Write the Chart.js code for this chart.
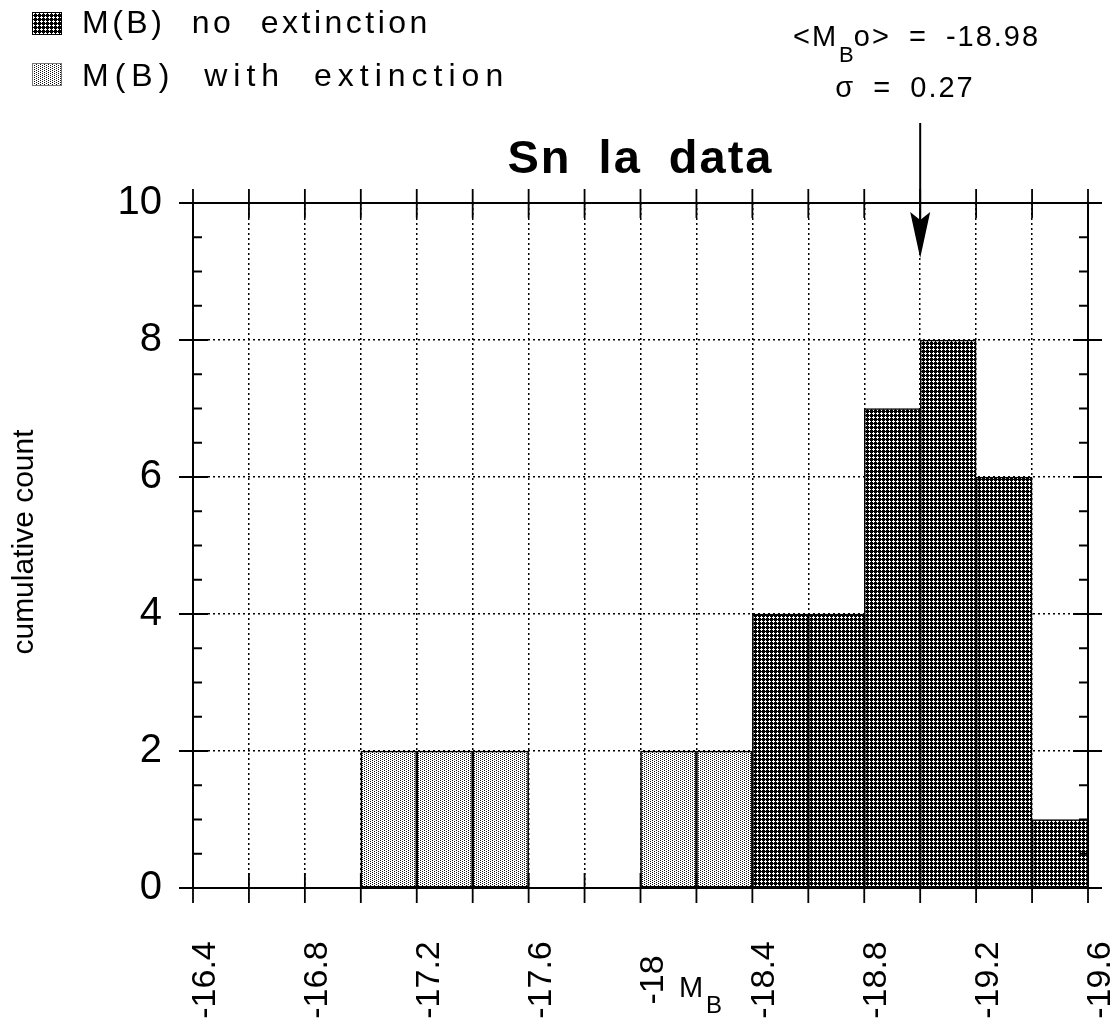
<!DOCTYPE html>
<html lang="en">
<head>
<meta charset="UTF-8">
<title>Sn la data</title>
<style>
  body { margin: 0; background: #fff; }
  #wrap { width: 1116px; height: 1036px; }
</style>
</head>
<body>
<div id="wrap"><canvas id="hist" width="1116" height="1036"></canvas></div>
<script src="https://cdn.jsdelivr.net/npm/chart.js"></script>
<script>
// histogram bins (M_B), 0.2 mag wide, given by their centres
const binCenters = [-16.5, -16.7, -16.9, -17.1, -17.3, -17.5, -17.7, -17.9,
                    -18.1, -18.3, -18.5, -18.7, -18.9, -19.1, -19.3, -19.5];
const noExtinction   = [null, null, null, null, null, null, null, null,
                        null, null, 4, 4, 7, 8, 6, 1];
const withExtinction = [null, null, null, 2, 2, 2, null, null,
                        2, 2, null, null, null, null, null, null];

const seriesLabels = ['M(B) no extinction', 'M(B) with extinction'];

// axes
const xGridValues = [-16.4, -16.6, -16.8, -17.0, -17.2, -17.4, -17.6, -17.8, -18.0,
                     -18.2, -18.4, -18.6, -18.8, -19.0, -19.2, -19.4, -19.6];
const xTickValues = [-16.4, -16.8, -17.2, -17.6, -18.0, -18.4, -18.8, -19.2, -19.6];
const xTickLabels = ['-16.4', '-16.8', '-17.2', '-17.6', '-18', '-18.4', '-18.8', '-19.2', '-19.6'];
const yTickValues = [0, 2, 4, 6, 8, 10];

const chartTitle = 'Sn la data';
const yTitle = 'cumulative count';
const meanValue = '-18.98';
const sigmaValue = '0.27';
const arrowAt = -19.0;

const FONT = '"Liberation Sans", Arial, Helvetica, sans-serif';

function makePattern(bg, dot, pts) {
    const c = document.createElement('canvas');
    c.width = 4; c.height = 4;
    const g = c.getContext('2d');
    g.fillStyle = bg;
    g.fillRect(0, 0, 4, 4);
    g.fillStyle = dot;
    pts.forEach(p => g.fillRect(p[0], p[1], 1, 1));
    return g.createPattern(c, 'repeat');
}

// dark: black with white diamond holes, light: white with black dots
const darkFill = makePattern('#000', '#fff', [[1, 0], [0, 1], [1, 1], [2, 1], [1, 2]]);
const lightFill = makePattern('#fff', '#111', [[0, 0], [2, 1], [0, 2], [2, 3]]);

function spaced(ctx, ls, ws) {
    if ('letterSpacing' in ctx) ctx.letterSpacing = ls + 'px';
    if ('wordSpacing' in ctx) ctx.wordSpacing = ws + 'px';
}

const decorations = {
    id: 'decorations',
    afterDraw(chart) {
        const ctx = chart.ctx;
        const area = chart.chartArea;
        const xs = chart.scales.x;
        const ys = chart.scales.y;
        ctx.save();
        ctx.strokeStyle = '#000';
        ctx.fillStyle = '#000';

        // frame
        ctx.lineWidth = 2;
        ctx.strokeRect(area.left, area.top, area.right - area.left, area.bottom - area.top);

        // crossing ticks on top and bottom
        ctx.lineWidth = 1.8;
        ctx.beginPath();
        xs.ticks.forEach(t => {
            const px = xs.getPixelForValue(t.value);
            ctx.moveTo(px, area.bottom - 15); ctx.lineTo(px, area.bottom + 15);
            ctx.moveTo(px, area.top - 14); ctx.lineTo(px, area.top + 15);
        });
        // left / right ticks
        for (let i = 0; i <= 20; i++) {
            const v = i * 0.5;
            const py = ys.getPixelForValue(v);
            if (i % 4 === 0) {
                ctx.moveTo(area.left - 14, py); ctx.lineTo(area.left + 15, py);
                ctx.moveTo(area.right - 15, py); ctx.lineTo(area.right + 14, py);
            } else {
                ctx.moveTo(area.left, py); ctx.lineTo(area.left + 9, py);
                ctx.moveTo(area.right, py); ctx.lineTo(area.right - 9, py);
            }
        }
        ctx.stroke();

        // x tick labels, rotated
        ctx.font = '34px ' + FONT;
        ctx.textAlign = 'center';
        ctx.textBaseline = 'alphabetic';
        xTickValues.forEach((v, i) => {
            const px = xs.getPixelForValue(v);
            ctx.save();
            ctx.translate(px + 22, 980);
            ctx.rotate(-Math.PI / 2);
            ctx.fillText(xTickLabels[i], 0, 0);
            ctx.restore();
        });

        // x axis title M_B
        ctx.textAlign = 'left';
        ctx.font = '29px ' + FONT;
        ctx.fillText('M', 679, 997);
        ctx.font = '24px ' + FONT;
        ctx.fillText('B', 706, 1013);

        // y axis title
        ctx.save();
        ctx.font = '30px ' + FONT;
        ctx.textAlign = 'center';
        ctx.translate(33, 542);
        ctx.rotate(-Math.PI / 2);
        ctx.fillText(yTitle, 0, 0);
        ctx.restore();

        // chart title
        ctx.save();
        ctx.font = 'bold 47px ' + FONT;
        ctx.textAlign = 'center';
        spaced(ctx, 2, 12);
        ctx.fillText(chartTitle, (area.left + area.right) / 2, 173);
        ctx.restore();

        // legend
        const rows = [{ y: 12, base: 33, ls: 3.5, ws: 14 }, { y: 63, base: 86, ls: 6, ws: 14 }];
        chart.data.datasets.forEach((ds, i) => {
            const r = rows[i];
            ctx.fillStyle = ds.backgroundColor;
            ctx.fillRect(32, r.y, 30, 23);
            ctx.lineWidth = 1;
            ctx.strokeStyle = i === 0 ? '#000' : '#777';
            ctx.strokeRect(32.5, r.y + 0.5, 29, 22);
            ctx.fillStyle = '#000';
            ctx.save();
            ctx.font = '32px ' + FONT;
            ctx.textAlign = 'left';
            spaced(ctx, r.ls, r.ws);
            ctx.fillText(ds.label, 82, r.base);
            ctx.restore();
        });

        // arrow at the mean
        const ax = xs.getPixelForValue(arrowAt);
        ctx.strokeStyle = '#000';
        ctx.lineWidth = 2;
        ctx.beginPath();
        ctx.moveTo(ax, 123); ctx.lineTo(ax, 220);
        ctx.stroke();
        ctx.beginPath();
        ctx.moveTo(ax - 10, 212);
        ctx.lineTo(ax, 220);
        ctx.lineTo(ax + 10, 212);
        ctx.lineTo(ax, 258);
        ctx.closePath();
        ctx.fill();

        // annotation <M_Bo> = -18.98
        ctx.save();
        ctx.textAlign = 'left';
        spaced(ctx, 2, 8);
        let x = 793;
        ctx.font = '29px ' + FONT;
        ctx.fillText('<M', x, 46);
        x += ctx.measureText('<M').width + 1;
        ctx.font = '22px ' + FONT;
        ctx.fillText('B', x, 62);
        x += ctx.measureText('B').width - 2;
        ctx.font = '29px ' + FONT;
        ctx.fillText('o> = ' + meanValue, x, 46);
        ctx.textAlign = 'center';
        ctx.fillText('\u03c3 = ' + sigmaValue, 905, 97);
        ctx.restore();

        ctx.restore();
    }
};

const chart = new Chart(document.getElementById('hist'), {
    type: 'bar',
    data: {
        datasets: [{
            label: seriesLabels[0],
            data: binCenters.map((x, i) => ({ x: x, y: noExtinction[i] })),
            backgroundColor: darkFill,
            borderColor: '#000',
            borderWidth: 1.6,
            borderSkipped: false,
            grouped: false,
            barPercentage: 1,
            categoryPercentage: 1
        }, {
            label: seriesLabels[1],
            data: binCenters.map((x, i) => ({ x: x, y: withExtinction[i] })),
            backgroundColor: lightFill,
            borderColor: '#000',
            borderWidth: 1.6,
            borderSkipped: false,
            grouped: false,
            barPercentage: 1,
            categoryPercentage: 1
        }]
    },
    options: {
        responsive: false,
        animation: false,
        layout: { padding: { top: 203, right: 28, bottom: 0, left: 0 } },
        plugins: {
            legend: { display: false },
            title: { display: false },
            tooltip: { enabled: false }
        },
        scales: {
            x: {
                type: 'linear',
                reverse: true,
                min: -19.6,
                max: -16.4,
                offset: false,
                afterBuildTicks: s => { s.ticks = xGridValues.map(v => ({ value: v })); },
                afterFit: s => { s.height = 148; },
                ticks: { display: false },
                border: { display: false, dash: [2, 3] },
                grid: {
                    offset: false,
                    drawTicks: false,
                    lineWidth: 1.5,
                    color: c => (c.index === 0 || c.index === xGridValues.length - 1) ? 'rgba(0,0,0,0)' : '#000'
                }
            },
            y: {
                min: 0,
                max: 10,
                afterBuildTicks: s => { s.ticks = yTickValues.map(v => ({ value: v })); },
                afterFit: s => { s.width = 193; },
                ticks: {
                    padding: 31,
                    color: '#000',
                    font: { family: FONT, size: 40 },
                    callback: v => String(v)
                },
                border: { display: false, dash: [2, 3] },
                grid: {
                    drawTicks: false,
                    lineWidth: 1.5,
                    color: c => (c.index === 0 || c.index === yTickValues.length - 1) ? 'rgba(0,0,0,0)' : '#000'
                }
            }
        }
    },
    plugins: [decorations]
});
</script>
</body>
</html>
